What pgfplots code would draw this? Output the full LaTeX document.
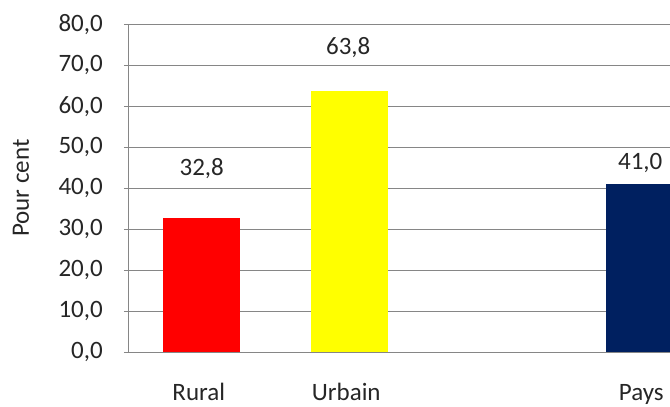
\documentclass[border=0pt]{standalone}
\usepackage{pgfplots}
\pgfplotsset{compat=1.18}
\usepackage{fontspec}
\setmainfont{Carlito}

\definecolor{barred}{HTML}{FF0000}
\definecolor{baryellow}{HTML}{FFFF00}
\definecolor{barnavy}{HTML}{002060}
\definecolor{gridgray}{HTML}{868686}
\definecolor{txt}{HTML}{262626}

\pgfkeys{/pgf/number format/commaone/.style={
  /pgf/number format/fixed, /pgf/number format/fixed zerofill,
  /pgf/number format/precision=1, /pgf/number format/use comma,
  /pgf/number format/assume math mode=true}}

\begin{document}
\begin{tikzpicture}[font=\fontsize{25bp}{30bp}\selectfont, text=txt]
% fixed page area; the last category slot runs past the right edge
\useasboundingbox (0,0) rectangle (670bp,407bp);
\begin{axis}[
  at={(128bp,55bp)}, anchor=south west,
  scale only axis, width=590bp, height=327.5bp,
  xmin=-0.5, xmax=3.5, ymin=0, ymax=80,
  axis lines*=left,
  axis line style={gridgray, line width=0.9bp},
  ytick={0,10,...,80},
  ymajorgrids, grid style={gridgray, line width=0.9bp},
  tick align=outside, major tick length=4bp,
  ytick style={gridgray, line width=0.9bp},
  xtick={0,1,3}, xticklabels={Rural,Urbain,Pays},
  xtick style={draw=none},
  xticklabel style={anchor=base, inner sep=0pt, yshift=-44bp, xshift=-3bp},
  yticklabel style={inner xsep=0pt, xshift=-21bp, /pgf/number format/commaone},
  ylabel={Pour cent},
  ylabel style={at={(axis description cs:-0.1814,0.5)}, anchor=center},
  ybar, bar width=77bp, bar shift=0pt,
  nodes near coords,
  nodes near coords style={anchor=center, /pgf/number format/commaone},
]
\addplot[fill=barred, draw=none,
  nodes near coords style={yshift=48.7bp}] coordinates {(0,32.8)};
\addplot[fill=baryellow, draw=none,
  nodes near coords style={yshift=43.3bp, xshift=-1bp}] coordinates {(1,63.8)};
\addplot[fill=barnavy, draw=none,
  nodes near coords style={yshift=21bp, xshift=-4bp}] coordinates {(3,41.0)};
\end{axis}
\end{tikzpicture}
\end{document}
